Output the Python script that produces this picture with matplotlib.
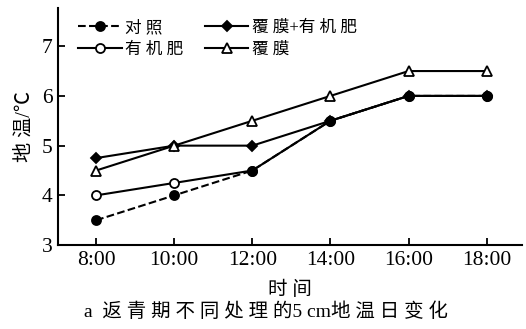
import numpy as np
import matplotlib
matplotlib.use('Agg')
import matplotlib.pyplot as plt

plt.rcParams['font.family'] = ['Liberation Serif', 'Noto Sans CJK SC']
plt.rcParams['axes.unicode_minus'] = False
# ================================================
# 5 cm soil temperature, 返青期
# ================================================
times   = ['8:00', '10:00', '12:00', '14:00', '16:00', '18:00']
ck      = [3.5, 4.0, 4.5, 5.5, 6.0, 6.0]      # 对照
manure  = [4.0, 4.25, 4.5, 5.5, 6.0, 6.0]     # 有机肥
film_m  = [4.75, 5.0, 5.0, 5.5, 6.0, 6.0]     # 覆膜+有机肥
film    = [4.5, 5.0, 5.5, 6.0, 6.5, 6.5]      # 覆膜
# ================================================
x = np.arange(len(times))

fig = plt.figure(figsize=(5.26, 3.29), dpi=100)
ax = fig.add_axes([0.110, 0.255, 0.882, 0.721])

kw = dict(color='black', lw=1.5, markersize=6.5, markeredgewidth=1.3)
l_ck, = ax.plot(x, ck, ls='--', marker='o', mfc='black', label='对 照', zorder=3, **kw)
l_m,  = ax.plot(x, manure, ls='-', marker='o', mfc='white', label='有 机 肥', zorder=2, **kw)
l_fm, = ax.plot(x, film_m, ls='-', marker='D', mfc='black', label='覆 膜+有 机 肥', zorder=2,
                **{**kw, 'markersize': 5})
l_f,  = ax.plot(x, film, ls='-', marker='^', mfc='white', label='覆 膜', zorder=2, **kw)

ax.set_xlim(-0.49, 5.45)
ax.set_ylim(3, 7.77)
ax.set_xticks(x)
ax.set_xticklabels(times)
ax.set_yticks([3, 4, 5, 6, 7])
ax.tick_params(direction='in', length=5, width=1.3, labelsize=15.5, pad=4)
for s in ['top', 'right']:
    ax.spines[s].set_visible(False)
for s in ['left', 'bottom']:
    ax.spines[s].set_linewidth(1.5)

ax.set_ylabel('地 温/℃', fontsize=14.5, labelpad=5)
ax.set_xlabel('时 间', fontsize=14, labelpad=8)
fig.text(0.505, 0.052, 'a  返 青 期 不 同 处 理 的5 cm地 温 日 变 化',
         ha='center', va='center', fontsize=14)

ax.legend(handles=[l_ck, l_m, l_fm, l_f], ncol=2, frameon=False, fontsize=12,
          loc='upper left', bbox_to_anchor=(0.03, 0.977), handlelength=2.6,
          handletextpad=0.2, columnspacing=1.3, labelspacing=0.35, borderaxespad=0)

plt.savefig('out.png', dpi=100)
plt.close()
